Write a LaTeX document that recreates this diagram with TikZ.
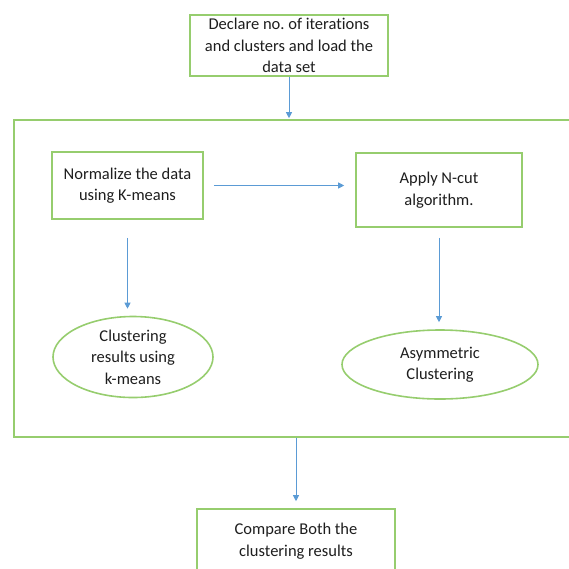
\documentclass[tikz,border=0pt]{standalone}
\usepackage{fontspec}
\setmainfont{Carlito}[Ligatures=NoCommon]
\usetikzlibrary{arrows.meta, shapes.geometric}
\definecolor{boxgreen}{RGB}{150,205,110}
\definecolor{arrblue}{RGB}{91,155,213}
\definecolor{txtgray}{RGB}{30,30,30}

\begin{document}
\begin{tikzpicture}[
    x=1pt, y=-1pt,
    every node/.style={font=\fontsize{16.5}{21.5}\selectfont, text=txtgray},
    stage/.style={draw=boxgreen, line width=1.6pt, fill=white, align=center, inner sep=0pt},
    result/.style={ellipse, draw=boxgreen, line width=1.6pt, align=center, inner sep=0pt},
    arr/.style={-{Triangle[length=6pt, width=6pt]}, draw=arrblue, line width=1pt}
]
\useasboundingbox (0,0) rectangle (569,568);
\clip (0,0) rectangle (569,568);
% outer frame, runs past the right edge
\node[draw=boxgreen, line width=1.6pt, minimum width=600pt, minimum height=317pt, inner sep=0pt] (frame) at (314,278.5) {};

\node[stage, minimum width=198pt, minimum height=61pt] (decl) at (289,45.5) {Declare no.\ of iterations\\and clusters and load the\\data set};
\node[stage, minimum width=151pt, minimum height=67pt] (norm) at (127.5,185.5) {Normalize the data\\using K-means};
\node[stage, minimum width=166pt, minimum height=74pt] (ncut) at (439,190) {Apply N-cut\\algorithm.};
\node[result, minimum width=160pt, minimum height=81pt] (kclus) at (133,357) {Clustering\\results using\\k-means};
\node[result, minimum width=196pt, minimum height=69pt] (asym) at (440,364.5) {Asymmetric\\Clustering};
\node[stage, minimum width=198pt, minimum height=64pt] (cmp) at (296,541) {Compare Both the\\clustering results};

\draw[arr, shorten >=1pt] (decl.south) -- (decl.south |- frame.north);
\draw[arr, shorten <=10pt, shorten >=11pt] (norm.east) -- (ncut.west |- norm.east);
\draw[arr, shorten <=18pt, shorten >=7pt] (norm.south) -- (norm.south |- kclus.north);
\draw[arr, shorten <=10pt, shorten >=7pt] (ncut.south) -- (ncut.south |- asym.north);
\draw[arr, shorten >=7pt] (cmp.north |- frame.south) -- (cmp.north);
\end{tikzpicture}
\end{document}
